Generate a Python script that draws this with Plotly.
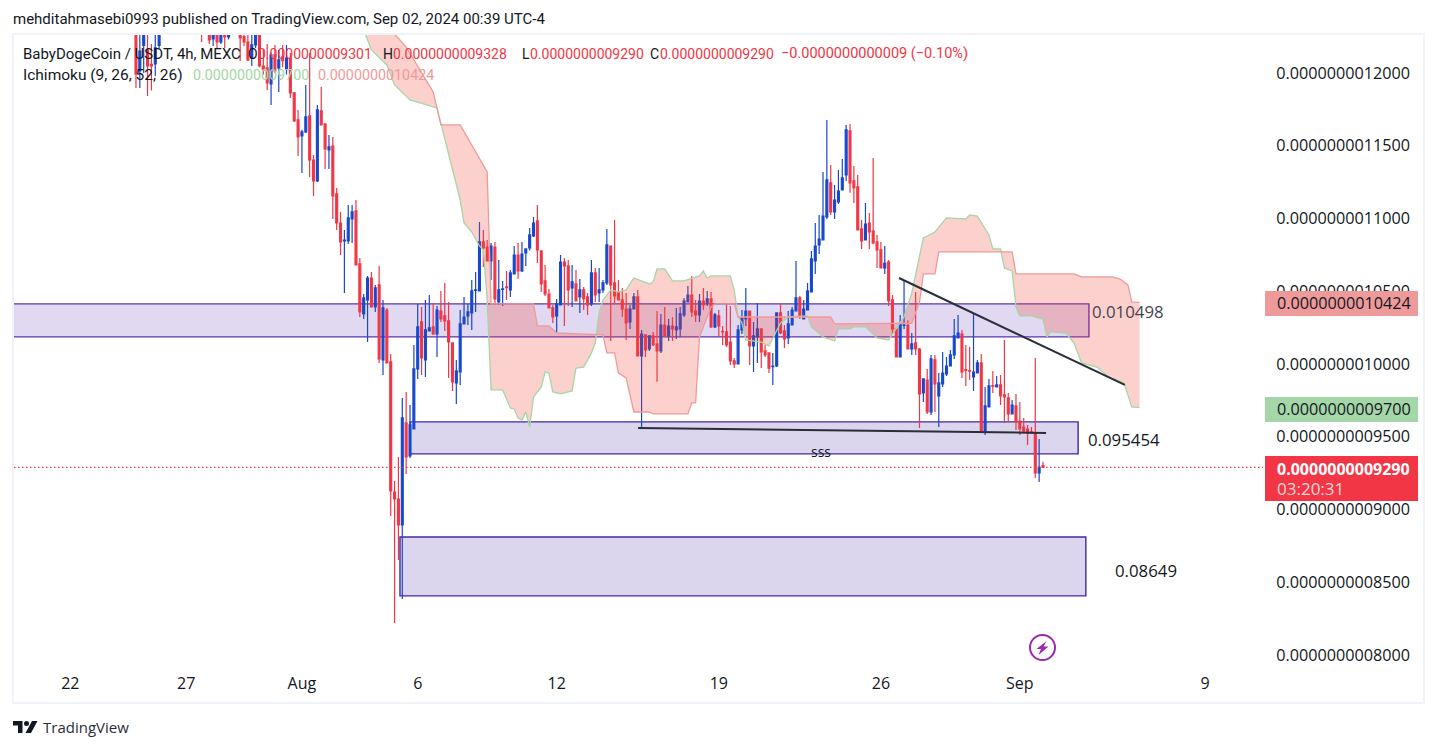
import pandas as pd
import plotly.graph_objects as go

# prices are in units of 1e-13 USDT
opens = [12300,12014,12190,12158,12060,12062,12190,12400,12450,12520,
12470,12430,12490,12460,12400,12450,12420,12380,12300,12400,
12234,12350,12213,12340,12248,12320,12380,12340,12250,12213,
12103,12193,12261,12048,12035,11925,12124,12035,12110,12028,
12103,11863,11677,11567,11595,11705,11402,11258,11739,11650,
11471,11498,11169,10969,10846,10846,10997,11052,10688,10344,
10440,10591,10392,10543,10028,10371,10014,9120,9072,8894,
9595,9368,9553,9966,10289,10028,10227,10255,10206,10364,
10330,10296,10145,9870,9945,10275,10330,10351,10505,10502,
10839,10804,10708,10804,10426,10512,10530,10509,10619,10749,
10639,10763,10797,10880,10983,10777,10571,10481,10385,10330,
10406,10701,10674,10523,10550,10461,10509,10461,10413,10626,
10488,10509,10557,10811,10557,10488,10440,10378,10289,10378,
10461,10055,10200,10103,10193,10138,10090,10268,10193,10261,
10234,10241,10337,10426,10474,10364,10337,10433,10419,10447,
10255,10330,10225,10220,10151,10021,10000,10234,10309,10364,
10124,10186,10241,10090,10076,9982,9986,10351,10227,10179,
10268,10364,10454,10309,10371,10495,10708,10818,10852,11011,
11244,11045,11114,11196,11299,11602,11258,11217,10928,10852,
10969,10914,10839,10784,10660,10701,10440,10241,10048,10265,
10268,10103,10145,10103,9801,9890,9670,10028,9780,9863,
9932,9986,10062,10179,10206,9962,9955,9911,9938,10007,
9540,9705,9852,9842,9856,9787,9767,9657,9712,9608,
9567,9553,9533,9526,9251,9301]

highs = [12400,12400,12400,12300,12200,12330,12400,12480,12560,12600,
12540,12520,12580,12520,12490,12530,12500,12440,12420,12480,
12440,12430,12400,12420,12400,12430,12450,12420,12330,12268,
12268,12300,12320,12165,12200,12140,12193,12158,12193,12193,
12138,11870,11746,11609,11918,12138,11437,11780,11904,11650,
11574,11560,11210,11045,10921,11093,11093,11127,10729,10481,
10605,10632,10543,10674,10440,10385,10069,9196,9361,9767,
9808,9718,10131,10413,10392,10440,10474,10419,10399,10502,
10557,10426,10145,10028,10371,10461,10413,10577,10632,10976,
10921,10852,10832,10839,10715,10571,10639,10646,10811,10832,
10839,10791,10935,11011,11093,10777,10681,10516,10406,10447,
10749,10729,10715,10681,10646,10584,10529,10488,10715,10660,
10660,10577,10928,10811,10990,10577,10523,10488,10406,10488,
10509,10234,10200,10193,10220,10364,10344,10392,10309,10323,
10385,10392,10454,10536,10605,10440,10481,10523,10502,10495,
10351,10371,10261,10413,10399,10041,10268,10371,10523,10364,
10289,10419,10241,10131,10076,10076,10351,10413,10268,10364,
10392,10708,10468,10440,10557,10777,10969,11024,11320,11677,
11368,11230,11334,11409,11643,11650,11361,11299,10990,11107,
11038,11416,10887,10839,10811,10715,10474,10241,10337,10571,
10300,10213,10495,10110,9897,9966,10062,10062,9938,10083,
10048,10096,10309,10337,10234,10131,10117,10351,10028,10069,
9842,9897,9952,9918,9925,10165,9801,9753,9794,9739,
9629,9581,9567,10041,9485,9328]

lows = [11897,11897,12000,11842,11880,11980,12172,12320,12400,12440,
12400,12380,12420,12360,12340,12370,12340,12213,12280,12200,
12185,12172,12200,12172,12230,12280,12290,12083,12185,12083,
12048,12172,12040,11990,11883,11780,12000,11870,12040,11990,
11828,11663,11430,11313,11588,11285,11155,11250,11640,11340,
11340,10997,10921,10749,10488,10825,10832,10681,10323,10309,
10151,10392,10358,10007,9925,10007,8955,8220,8653,8385,
9244,9354,9553,9897,9925,9911,10227,10200,10048,10289,
10227,9904,9815,9725,9856,10275,10268,10234,10358,10502,
10667,10708,10577,10406,10406,10399,10440,10461,10619,10586,
10632,10674,10780,10873,10694,10495,10468,10385,10282,10213,
10406,10261,10399,10392,10433,10351,10371,10337,10399,10426,
10426,10488,10543,10158,10419,10440,10323,10165,10241,10378,
10055,9553,10048,10090,10124,9877,10076,10193,10158,10158,
10172,10186,10323,10426,10323,10289,10289,10371,10399,10248,
10248,10193,10131,10117,9993,9972,10000,10206,10261,9993,
9945,10007,9972,10048,9938,9856,9979,10206,10110,10138,
10268,10364,10309,10309,10371,10495,10619,10756,10852,10997,
11024,10997,11100,11196,11258,11176,11107,10921,10791,10852,
10791,10825,10660,10660,10619,10399,10206,10048,10048,10241,
10103,10062,10062,9560,9739,9657,9650,9670,9567,9842,
9918,9986,10035,10179,9904,9849,9890,9815,9938,9540,
9512,9705,9801,9842,9718,9595,9602,9657,9547,9512,
9526,9444,9526,9217,9189,9290]

closes = [11993,12151,12280,12048,12048,12172,12300,12450,12520,12470,
12430,12490,12460,12400,12450,12420,12380,12300,12380,12227,
12350,12213,12340,12248,12320,12380,12330,12241,12213,12090,
12193,12261,12048,12021,11932,12124,12014,12090,12085,12103,
11863,11670,11560,11595,11698,11402,11258,11746,11643,11478,
11492,11155,10969,10839,10852,11004,11045,10681,10358,10454,
10591,10392,10523,10035,10385,10007,9127,9072,8894,9629,
9361,9581,9966,10255,10041,10234,10248,10206,10371,10309,
10296,10151,9877,9952,10275,10323,10358,10502,10509,10839,
10797,10708,10811,10447,10509,10516,10525,10626,10749,10639,
10756,10791,10887,10969,10784,10550,10481,10385,10323,10413,
10701,10674,10509,10564,10433,10509,10447,10406,10626,10474,
10509,10557,10818,10543,10468,10440,10378,10282,10378,10461,
10055,10206,10096,10193,10131,10090,10268,10193,10261,10241,
10255,10344,10433,10474,10358,10337,10433,10406,10447,10255,
10337,10261,10220,10131,10021,10000,10234,10316,10364,10124,
10193,10241,10083,10062,9972,9986,10351,10213,10172,10275,
10371,10454,10330,10378,10502,10722,10811,10859,11017,11265,
11045,11127,11189,11279,11609,11244,11210,10921,10846,10962,
10907,10832,10784,10660,10694,10433,10241,10048,10275,10268,
10103,10138,10103,9794,9897,9670,10035,9863,9870,9938,
9986,10062,10193,10213,9945,9956,9950,9945,10007,9540,
9712,9849,9847,9856,9780,9773,9657,9718,9602,9553,
9540,9526,9526,9251,9292,9290]

# Ichimoku leading spans, by bar offset from the last candle
span_a_bars = [-176,-174,-170,-168,-164,-157,-151,-150,-148,-146,-145,-144,-143,-140,-138,-137,-136,-135,-134,-133,-132,-130,-129,-128,-127,-125,-122,-121,-119,-117,-116,-115,-114,-112,-110,-108,-106,-102,-101,-100,-98,-96,-93,-89,-88,-87,-86,-81,-80,-79,-78,-77,-73,-71,-68,-66,-61,-60,-57,-54,-53,-50,-49,-46,-43,-40,-36,-34,-31,-28,-25,-20,-19,-17,-14,-13,-11,-10,-8,-7,-6,-3,0,1,2,6,8,10,14,17,21,23,25]
span_a = [12296,12158,12055,11918,11815,11760,11127,10969,10907,10811,10784,10440,9822,9822,9698,9691,9629,9615,9670,9567,9773,9842,9945,9938,9808,9794,9815,9972,9979,10076,10144,10351,10440,10509,10495,10509,10591,10550,10564,10653,10653,10571,10571,10605,10639,10591,10605,10605,10509,10323,10282,10165,10151,10124,10282,10323,10330,10255,10186,10158,10241,10241,10255,10255,10179,10165,10323,10488,10866,10907,11004,10997,11024,11017,10887,10791,10791,10660,10639,10392,10330,10330,10309,10186,10220,10213,10144,10007,9979,9911,9870,9705,9700]
span_b_bars = [-176,-168,-165,-158,-156,-151,-144,-143,-132,-131,-128,-126,-120,-114,-113,-111,-110,-108,-106,-102,-101,-92,-91,-90,-89,-86,-85,-80,-79,-55,-54,-34,-32,-31,-28,-27,-8,-7,8,10,18,20,22,23,25]
span_b = [12500,12270,12179,11870,11643,11643,11320,10413,10413,10262,10262,10213,10206,10200,10076,10076,9938,9904,9670,9670,9657,9657,9732,9732,10186,10392,10413,10413,10323,10323,10275,10280,10426,10619,10619,10770,10770,10619,10619,10598,10598,10584,10543,10426,10424]

# drawn zones: start bar, end bar, top price, bottom price, label
zone_start = [-272,-164,-166.6]
zone_end = [11.9,9.1,11.1]
zone_top = [10413,9602,8811]
zone_bottom = [10186,9382,8406]
zone_labels = ["0.010498","0.095454","0.08649"]

trend_start_bar = [-37.3,-104.9]
trend_end_bar = [21.2,0.8]
trend_start_price = [10591,9560]
trend_end_price = [9856,9526]

last_price = 9290
tick_prices = [8000,8500,9000,9500,10000,10500,11000,11500,12000]
tick_labels = ["0.0000000008000","0.0000000008500","0.0000000009000","0.0000000009500","0.0000000010000","0.0000000010500","0.0000000011000","0.0000000011500","0.0000000012000"]
date_ticks = ["2024-07-22","2024-07-27","2024-08-01","2024-08-06","2024-08-12","2024-08-19","2024-08-26","2024-09-01","2024-09-09"]
date_labels = ["22","27","Aug","6","12","19","26","Sep","9"]

assert len(opens)==len(highs)==len(lows)==len(closes), (len(opens),len(highs),len(lows),len(closes))
assert len(span_a)==len(span_a_bars) and len(span_b)==len(span_b_bars), (len(span_a),len(span_a_bars),len(span_b),len(span_b_bars))

last_bar = pd.Timestamp("2024-09-02 00:00")
def bar_time(k):
    return (last_bar + pd.Timedelta(hours=4*k)).strftime("%Y-%m-%d %H:%M:%S")
dates = [bar_time(k) for k in range(-len(opens)+1, 1)]

# page layout helpers (pixels -> paper)
L, R, T, B = 14, 1263, 35, 664
def px(x): return (x-L)/(R-L)
def py(y): return (B-y)/(B-T)

RED, BLUE = "#F23645", "#1848CC"
INK = "#131722"
fig = go.Figure()
fig.add_trace(go.Scatter(x=[bar_time(k) for k in span_a_bars], y=span_a, mode="lines",
    line=dict(color="#A5D6A7", width=1.3), hoverinfo="skip", showlegend=False))
fig.add_trace(go.Scatter(x=[bar_time(k) for k in span_b_bars], y=span_b, mode="lines",
    line=dict(color="#EF9A9A", width=1.3), fill="tonexty", fillcolor="rgba(244,67,54,0.25)",
    hoverinfo="skip", showlegend=False))
fig.add_trace(go.Candlestick(x=dates, open=opens, high=highs, low=lows, close=closes,
    increasing=dict(line=dict(color=BLUE, width=1.2), fillcolor=BLUE),
    decreasing=dict(line=dict(color=RED, width=1.2), fillcolor=RED),
    whiskerwidth=0, hoverinfo="skip", showlegend=False))

shapes = []
zone_fill = ["rgba(103,58,183,0.2)","rgba(81,45,168,0.2)","rgba(81,45,168,0.2)"]
zone_line = ["#5E35B1","#4527A0","#4527A0"]
for i in range(3):
    shapes.append(dict(type="rect", xref="x", yref="y", x0=bar_time(zone_start[i]), x1=bar_time(zone_end[i]),
        y0=zone_bottom[i], y1=zone_top[i], fillcolor=zone_fill[i], line=dict(color=zone_line[i], width=1.4), layer="below"))
for i in range(2):
    shapes.append(dict(type="line", xref="x", yref="y", x0=bar_time(trend_start_bar[i]), x1=bar_time(trend_end_bar[i]),
        y0=trend_start_price[i], y1=trend_end_price[i], line=dict(color="#2A2E39", width=2), layer="above"))
shapes.append(dict(type="line", xref="paper", yref="y", x0=0, x1=1, y0=last_price, y1=last_price,
    line=dict(color=RED, width=1.3, dash="1.5px,2.5px"), layer="above"))

def box(x0,y0,x1,y1,**kw):
    return dict(type="rect", xref="paper", yref="paper", x0=px(x0), x1=px(x1), y0=py(y1), y1=py(y0), **kw)
# frame
shapes.append(box(13,34,1424,703, line=dict(color="#F0F3FA", width=2), fillcolor="rgba(0,0,0,0)", layer="above"))
# price tags
shapes.append(box(1265,291,1418,316, fillcolor="#EF9A9A", line=dict(width=0), layer="above"))
shapes.append(box(1265,397,1418,422, fillcolor="#A5D6A7", line=dict(width=0), layer="above"))
shapes.append(box(1265,456,1418,501, fillcolor=RED, line=dict(width=0), layer="above"))
# lightning badge
shapes.append(dict(type="circle", xref="paper", yref="paper", x0=px(1030), x1=px(1055), y0=py(660), y1=py(635),
    line=dict(color="#9C27B0", width=2), fillcolor="#FFFFFF", layer="above"))
def poly(points):
    return "M" + " L".join(f"{px(x):.5f},{py(y):.5f}" for x,y in points) + " Z"
shapes.append(dict(type="path", xref="paper", yref="paper", layer="above", fillcolor="#9C27B0", line=dict(width=0),
    path=poly([(1046.5,641),(1036.5,649),(1041,649),(1038.5,655),(1048.5,646.5),(1043.5,646.5)])))
# TradingView logo
shapes.append(dict(type="path", xref="paper", yref="paper", layer="above", fillcolor=INK, line=dict(width=0),
    path=poly([(13,721),(22.5,721),(22.5,733),(18,733),(18,725.5),(13,725.5)])))
shapes.append(dict(type="path", xref="paper", yref="paper", layer="above", fillcolor=INK, line=dict(width=0),
    path=poly([(32,721),(37.5,721),(31,733),(25.5,733)])))
shapes.append(dict(type="circle", xref="paper", yref="paper", x0=px(24), x1=px(29), y0=py(726), y1=py(721),
    fillcolor=INK, line=dict(width=0), layer="above"))

def note(x, y, text, color=INK, size=14, family="Roboto", anchor="left", bold=False):
    return dict(xref="paper", yref="paper", x=px(x), y=py(y), text=f"<b>{text}</b>" if bold else text, showarrow=False,
        xanchor=anchor, yanchor="middle", borderpad=0, borderwidth=0, font=dict(color=color, size=size, family=family))

anns = [
    note(13,19,"mehditahmasebi0993 published on TradingView.com, Sep 02, 2024 00:39 UTC-4",size=15),
    note(23,54,"BabyDogeCoin / USDT, 4h, MEXC",size=15),
    note(248,54,"O"), note(258,54,"0.0000000009301",RED),
    note(383,54,"H"), note(393,54,"0.0000000009328",RED),
    note(522,54,"L"), note(530,54,"0.0000000009290",RED),
    note(650,54,"C"), note(660,54,"0.0000000009290",RED),
    note(781,54,"\u22120.0000000000009 (\u22120.10%)",RED,14.5),
    note(23,75,"Ichimoku (9, 26, 52, 26)",size=15.5),
    note(193,75,"0.0000000009700","#A5D6A7",14.3),
    note(318,75,"0.0000000010424","#EF9A9A",14.3),
    note(1092,311,zone_labels[0],"#434651",16.8,"Open Sans"),
    note(1088,439,zone_labels[1],INK,16.8,"Open Sans"),
    note(1115,570,zone_labels[2],INK,16.8,"Open Sans"),
    note(821,451,"sss",INK,14,"Open Sans",anchor="center"),
    note(1277,303,"0.0000000010424",INK,16.2,"Open Sans"),
    note(1277,409,"0.0000000009700",INK,16.2,"Open Sans"),
    note(1277,468.5,"0.0000000009290","#FFFFFF",16,"Open Sans",bold=True),
    note(1277,488.5,"03:20:31","#FFD5DA",17,"Open Sans"),
    note(43,727,"TradingView","#2A2E39",15,"Open Sans"),
]

fig.update_layout(
    width=1437, height=748, margin=dict(l=L, r=1437-R, t=T, b=748-B),
    paper_bgcolor="#FFFFFF", plot_bgcolor="#FFFFFF", showlegend=False, hovermode=False,
    shapes=shapes, annotations=anns,
    xaxis=dict(type="date", range=[bar_time(-266.6), bar_time(57)], rangeslider=dict(visible=False),
        showgrid=False, zeroline=False, showline=False, tickmode="array",
        tickvals=date_ticks, ticktext=date_labels, ticks="outside", ticklen=5, tickcolor="rgba(0,0,0,0)",
        tickfont=dict(family="Open Sans", size=16, color=INK)),
    yaxis=dict(side="right", range=[7938,12261], showgrid=False, zeroline=False, showline=False,
        tickmode="array", tickvals=tick_prices, ticktext=tick_labels, ticks="outside", ticklen=9,
        tickcolor="rgba(0,0,0,0)", tickfont=dict(family="Open Sans", size=16.2, color=INK)),
)
fig.write_html("out.html", config=dict(displayModeBar=False),
    post_script="document.body.style.margin='0';document.body.style.overflow='hidden';")
